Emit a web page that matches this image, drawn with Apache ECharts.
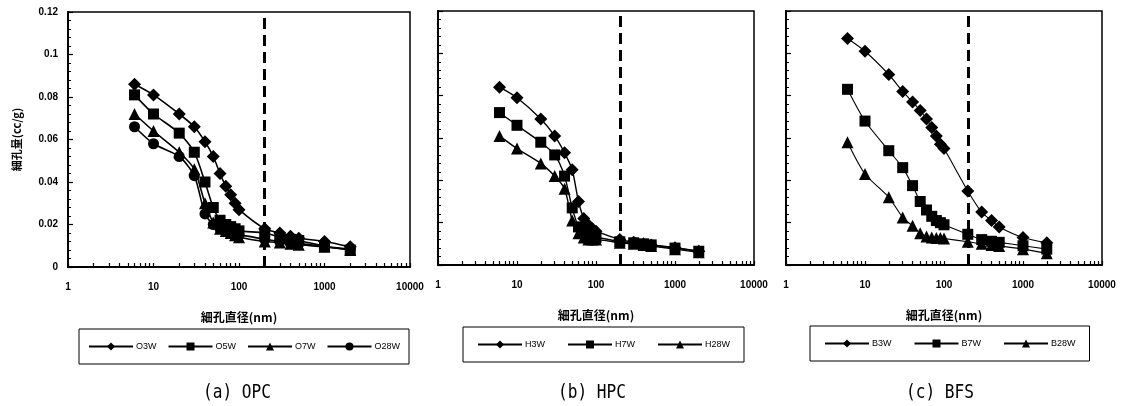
<!DOCTYPE html>
<html>
<head>
<meta charset="utf-8">
<script src="https://cdn.jsdelivr.net/npm/echarts@6/dist/echarts.min.js"></script>
<style>
  html, body { margin: 0; padding: 0; background: #fff; }
  #chart { width: 1121px; height: 406px; }
</style>
</head>
<body>
<div id="chart"></div>
<script>
// pore diameter (nm) and pore volume (cc/g)
var diameters = [6, 10, 20, 30, 40, 50, 60, 70, 80, 90, 100, 200, 300, 400, 500, 1000, 2000];

var o3w  = [0.086, 0.081, 0.072, 0.066, 0.059, 0.052, 0.044, 0.038, 0.034, 0.030, 0.027, 0.018, 0.016, 0.0145, 0.0135, 0.012, 0.0095];
var o5w  = [0.081, 0.072, 0.063, 0.054, 0.040, 0.028, 0.022, 0.020, 0.019, 0.018, 0.017, 0.016, 0.014, 0.013, 0.0125, 0.0098, 0.008];
var o7w  = [0.072, 0.064, 0.054, 0.046, 0.030, 0.021, 0.018, 0.017, 0.016, 0.015, 0.014, 0.012, 0.0115, 0.011, 0.0105, 0.0095, 0.008];
var o28w = [0.066, 0.058, 0.052, 0.043, 0.025, 0.020, 0.018, 0.017, 0.016, 0.015, 0.015, 0.013, 0.012, 0.011, 0.011, 0.0095, 0.0085];

var h3w  = [0.084, 0.079, 0.069, 0.061, 0.053, 0.045, 0.030, 0.022, 0.019, 0.017, 0.016, 0.012, 0.0108, 0.010, 0.0095, 0.0082, 0.0065];
var h7w  = [0.072, 0.066, 0.058, 0.052, 0.042, 0.027, 0.018, 0.016, 0.014, 0.013, 0.013, 0.011, 0.0105, 0.010, 0.0095, 0.008, 0.0065];
var h28w = [0.061, 0.055, 0.048, 0.042, 0.036, 0.021, 0.015, 0.013, 0.012, 0.012, 0.012, 0.0105, 0.010, 0.0095, 0.009, 0.0075, 0.006];

var b3w  = [0.107, 0.101, 0.090, 0.082, 0.077, 0.073, 0.069, 0.065, 0.061, 0.057, 0.055, 0.035, 0.025, 0.021, 0.018, 0.013, 0.0105];
var b7w  = [0.083, 0.068, 0.054, 0.046, 0.0375, 0.030, 0.026, 0.023, 0.021, 0.020, 0.019, 0.0145, 0.012, 0.0112, 0.0107, 0.0091, 0.0075];
var b28w = [0.058, 0.043, 0.032, 0.0225, 0.0185, 0.015, 0.0135, 0.013, 0.0128, 0.0127, 0.0125, 0.011, 0.010, 0.0095, 0.009, 0.0075, 0.0055];

var panelTitles = ['(a) OPC', '(b) HPC', '(c) BFS'];
var xTitle = '細孔直径(nm)';
var yTitle = '細孔量(cc/g)';
var decadeLabels = [1, 10, 100, 1000, 10000];
var poreLimit = 200;

var chart = echarts.init(document.getElementById('chart'));

var grids = [
  { left: 68, top: 12, width: 342, height: 255 },
  { left: 438, top: 11, width: 316, height: 254 },
  { left: 786, top: 11, width: 316, height: 254 }
];

// decade ticks plus 2..9 in between
var tickVals = [];
[1, 10, 100, 1000].forEach(function (d) {
  for (var m = 1; m <= 9; m++) tickVals.push(m * d);
});
tickVals.push(10000);

var pair = function (vals) {
  return diameters.map(function (d, i) { return [d, vals[i]]; });
};

var xAxes = [], yAxes = [];
grids.forEach(function (g, i) {
  xAxes.push({
    type: 'log', logBase: 10, min: 1, max: 10000, gridIndex: i,
    name: xTitle, nameLocation: 'middle', nameGap: 44,
    nameTextStyle: { color: '#000', fontSize: 12, fontWeight: 'bold', fontFamily: 'Noto Sans CJK JP' },
    axisLine: { lineStyle: { color: '#000', width: 2 } },
    axisTick: { inside: true, length: 4, customValues: tickVals, lineStyle: { color: '#000', width: 1.2 } },
    axisLabel: {
      color: '#000', fontSize: 10, fontWeight: 'bold', fontFamily: 'Liberation Sans', margin: 15,
      customValues: decadeLabels,
      formatter: function (v) { return String(v); }
    },
    splitLine: { show: false }
  });
  yAxes.push({
    type: 'value', min: 0, max: 0.12, interval: 0.02, gridIndex: i,
    name: i === 0 ? yTitle : '', nameLocation: 'middle', nameGap: 46, nameRotate: 90,
    nameTextStyle: { color: '#000', fontSize: 11, fontWeight: 'bold', fontFamily: 'Noto Sans CJK JP' },
    axisLine: { show: true, lineStyle: { color: '#000', width: 2 } },
    axisTick: { show: true, inside: true, length: 5, lineStyle: { color: '#000', width: 1.2 } },
    minorTick: { show: true, splitNumber: 5, length: 3, lineStyle: { color: '#000', width: 1 } },
    axisLabel: {
      show: i === 0, color: '#000', fontSize: 10, fontWeight: 'bold', fontFamily: 'Liberation Sans', margin: 10,
      formatter: function (v) { return v === 0 ? '0' : String(+v.toFixed(2)); }
    },
    splitLine: { show: false }
  });
});

var marks = [
  { symbol: 'diamond', symbolSize: 13 },
  { symbol: 'rect', symbolSize: 11 },
  { symbol: 'triangle', symbolSize: 12 },
  { symbol: 'circle', symbolSize: 11 }
];

var panels = [
  { names: ['O3W', 'O5W', 'O7W', 'O28W'], data: [o3w, o5w, o7w, o28w], width: 1.6 },
  { names: ['H3W', 'H7W', 'H28W'], data: [h3w, h7w, h28w], width: 1.4 },
  { names: ['B3W', 'B7W', 'B28W'], data: [b3w, b7w, b28w], width: 1.1 }
];

var series = [];
panels.forEach(function (p, gi) {
  p.names.forEach(function (name, si) {
    var s = {
      name: name, type: 'line', xAxisIndex: gi, yAxisIndex: gi,
      data: pair(p.data[si]),
      symbol: marks[si].symbol, symbolSize: marks[si].symbolSize,
      smooth: 0.25,
      itemStyle: { color: '#000' },
      lineStyle: { color: '#000', width: p.width },
      z: 3
    };
    if (si === 0) {
      s.markLine = {
        silent: true, symbol: ['none', 'none'], label: { show: false },
        lineStyle: { color: '#000', type: [11, 6], width: 3 },
        data: [{ xAxis: poreLimit }]
      };
    }
    series.push(s);
  });
});

var legendBase = {
  orient: 'horizontal', itemWidth: 44, itemHeight: 10,
  textStyle: { color: '#000', fontSize: 9, fontFamily: 'Liberation Sans', padding: [0, 0, 0, -2] },
  borderColor: '#000', borderWidth: 1, backgroundColor: '#fff'
};
var legends = [
  Object.assign({}, legendBase, { data: panels[0].names, left: 79, top: 329, itemGap: 11, padding: [13, 9] }),
  Object.assign({}, legendBase, { data: panels[1].names, left: 463, top: 327, itemGap: 22, padding: [13, 14] }),
  Object.assign({}, legendBase, { data: panels[2].names, left: 810, top: 326, itemGap: 22, padding: [13, 14] })
];

var titleCenters = [237, 592, 940];
var graphics = panelTitles.map(function (t, i) {
  return {
    type: 'text', x: titleCenters[i], y: 393, scaleX: 0.85,
    style: {
      text: t, fill: '#000', font: '19px "DejaVu Sans Mono"',
      textAlign: 'center', textVerticalAlign: 'middle'
    }
  };
});

chart.setOption({
  animation: false,
  backgroundColor: '#fff',
  grid: grids.map(function (g) {
    return Object.assign({ show: true, borderColor: '#000', borderWidth: 1.5, containLabel: false }, g);
  }),
  xAxis: xAxes,
  yAxis: yAxes,
  legend: legends,
  series: series,
  graphic: graphics
});
</script>
</body>
</html>
